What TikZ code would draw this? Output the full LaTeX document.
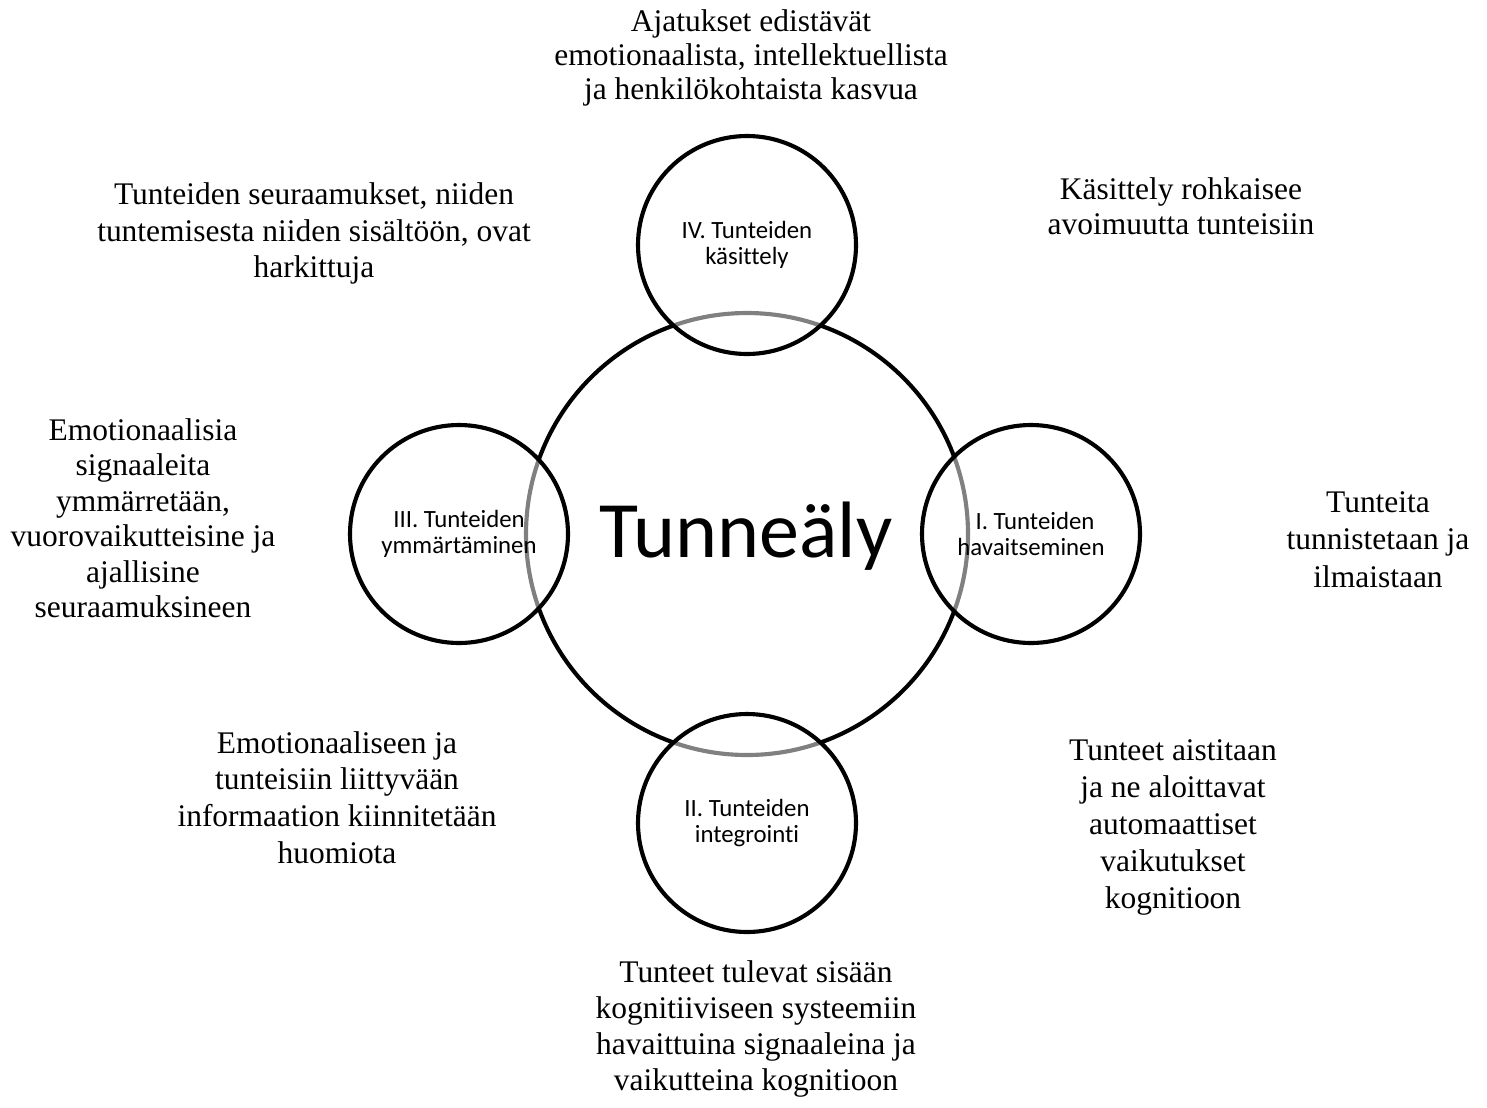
\documentclass[tikz,border=0pt]{standalone}
\usepackage{fontspec}
\setmainfont{Liberation Serif}
\newfontfamily\calibrifont[Ligatures=NoCommon]{Carlito}
\newcommand{\topstrut}{\rule{0pt}{21pt}}

\begin{document}
\begin{tikzpicture}[x=0.75pt, y=-0.75pt,
  bigring/.style={circle, draw=black, line width=3.1pt, minimum size=331.5pt, inner sep=0pt},
  branch/.style={circle, draw=black, line width=3.1pt, minimum size=163.5pt, inner sep=0pt,
    fill=white, fill opacity=0.5, draw opacity=1, text opacity=1, align=center,
    font=\calibrifont\fontsize{18.6}{19.6}\selectfont},
  outer/.style={align=center, inner sep=0pt, anchor=north},
  fs/.style={font=\fontsize{23.6}{#1}\selectfont}
]
\useasboundingbox (0,0) rectangle (1487,1107);

% central ring
\node[bigring] (core) at (747,534) {};

% four branches, drawn over the ring so that it shows through in grey
\node[branch] (b4) at (747,245) {IV. Tunteiden\\käsittely};
\node[branch] (b1) at (1031,534) {\hspace*{6pt}I. Tunteiden\\havaitseminen};
\node[branch] (b3) at (459,534) {III. Tunteiden\\ymmärtäminen};
\node[branch] (b2) at (747,823) {II. Tunteiden\\integrointi};

\node[font=\calibrifont\fontsize{60}{70}\selectfont, anchor=base, inner sep=0pt] (title) at (746,557) {Tunneäly};

% descriptions around the circles
\node[outer, fs=25.5pt] (d4) at (751,3)
  {\topstrut Ajatukset edistävät\\emotionaalista, intellektuellista\\ja henkilökohtaista kasvua};
\node[outer, fs=27.6pt] (d4l) at (314,176)
  {\topstrut Tunteiden seuraamukset, niiden\\tuntemisesta niiden sisältöön, ovat\\harkittuja};
\node[outer, fs=26.2pt] (d4r) at (1181,171)
  {\topstrut Käsittely rohkaisee\\avoimuutta tunteisiin};
\node[outer, fs=26.6pt] (d3) at (143,412)
  {\topstrut Emotionaalisia\\signaaleita\\ymmärretään,\\vuorovaikutteisine ja\\ajallisine\\seuraamuksineen};
\node[outer, fs=28.1pt] (d1) at (1378,484)
  {\topstrut Tunteita\\tunnistetaan ja\\ilmaistaan};
\node[outer, fs=27.5pt] (d2l) at (337,725)
  {\topstrut Emotionaaliseen ja\\tunteisiin liittyvään\\informaation kiinnitetään\\huomiota};
\node[outer, fs=27.75pt] (d1r) at (1173,732)
  {\topstrut Tunteet aistitaan\\ja ne aloittavat\\automaattiset\\vaikutukset\\kognitioon};
\node[outer, fs=27pt] (d2) at (756,954)
  {\topstrut Tunteet tulevat sisään\\kognitiiviseen systeemiin\\havaittuina signaaleina ja\\vaikutteina kognitioon};
\end{tikzpicture}
\end{document}
